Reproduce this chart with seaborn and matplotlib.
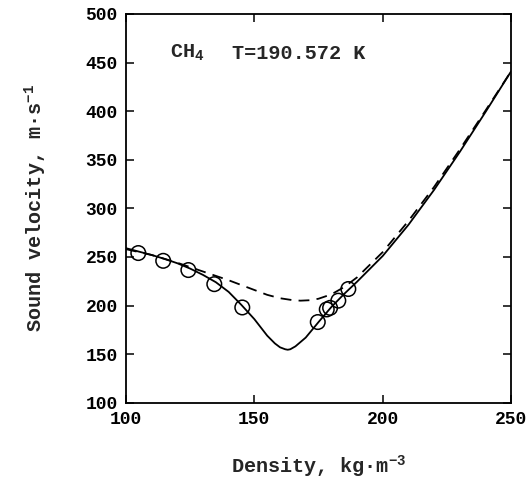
import matplotlib
matplotlib.use("Agg")
import matplotlib.pyplot as plt
import seaborn as sns
import pandas as pd

# Measured data (circles)
exp_density = [104.8, 114.5, 124.3, 134.4, 145.3, 174.7, 178.2, 179.5, 182.7, 186.6]
exp_velocity = [254, 246, 236.5, 222, 198, 183, 196, 197.6, 205, 217]

# Solid curve
solid_density = [100, 105, 110, 115, 120, 125, 130, 135, 140, 145, 150, 155, 158, 160, 162, 163, 164, 166, 168, 170, 175, 180, 185, 190, 200, 210, 220, 230, 240, 250]
solid_velocity = [259, 255.5, 252, 248, 243.5, 238, 231.5, 224, 214, 200.5, 186, 169, 161, 157, 155, 154.5, 155, 158, 162.5, 167, 183, 198.5, 212, 224.5, 251, 283, 319, 358, 399, 441]

# Dashed curve
dashed_density = [100, 110, 120, 130, 140, 150, 155, 160, 165, 168, 172, 175, 180, 185, 190, 200, 210, 220, 230, 240, 250]
dashed_velocity = [258, 252, 244, 235, 226, 216, 211, 207.5, 205.5, 205, 205.5, 207, 211.5, 219, 229, 255, 287, 322, 360.5, 400.5, 441]

sns.set_theme(style="ticks")
plt.rcParams['font.family'] = ['Liberation Mono', 'DejaVu Sans Mono']
plt.rcParams['font.weight'] = 'bold'
plt.rcParams['axes.labelweight'] = 'bold'
plt.rcParams['mathtext.fontset'] = 'custom'
plt.rcParams['mathtext.rm'] = 'Liberation Mono:bold'
plt.rcParams['mathtext.it'] = 'Liberation Mono:bold'
plt.rcParams['mathtext.bf'] = 'Liberation Mono:bold'
plt.rcParams['mathtext.default'] = 'rm'

fig = plt.figure(figsize=(5.28, 4.82), dpi=100)
ax = fig.add_axes([0.2386, 0.1645, 0.7294, 0.8065])

sns.lineplot(x=solid_density, y=solid_velocity, ax=ax, color='black', lw=1.3, sort=False)
sns.lineplot(x=dashed_density, y=dashed_velocity, ax=ax, color='black', lw=1.3,
             linestyle=(0, (6, 4)), sort=False)
sns.scatterplot(x=exp_density, y=exp_velocity, ax=ax, marker='o', s=110,
                facecolor='none', edgecolor='black', linewidth=1.1, zorder=5)

ax.set_xlim(100, 250)
ax.set_ylim(100, 500)
ax.set_xticks([100, 150, 200, 250])
ax.set_yticks([100, 150, 200, 250, 300, 350, 400, 450, 500])
ax.tick_params(direction='in', length=6, width=1.1, top=True, right=True,
               labelsize=13, colors='black', pad=6)
for s in ax.spines.values():
    s.set_linewidth(1.3)
    s.set_color('black')

ax.set_xlabel('Density, kg·m$^{-3}$', fontsize=14.5, labelpad=18)
ax.set_ylabel('Sound velocity, m·s$^{-1}$', fontsize=14.5, labelpad=26)

ax.text(117.1, 459.5, 'CH$_4$', fontsize=14.5, va='center', ha='left')
ax.text(141.3, 459.5, 'T=190.572 K', fontsize=14.5, va='center', ha='left')

fig.savefig('out.png', dpi=100)
